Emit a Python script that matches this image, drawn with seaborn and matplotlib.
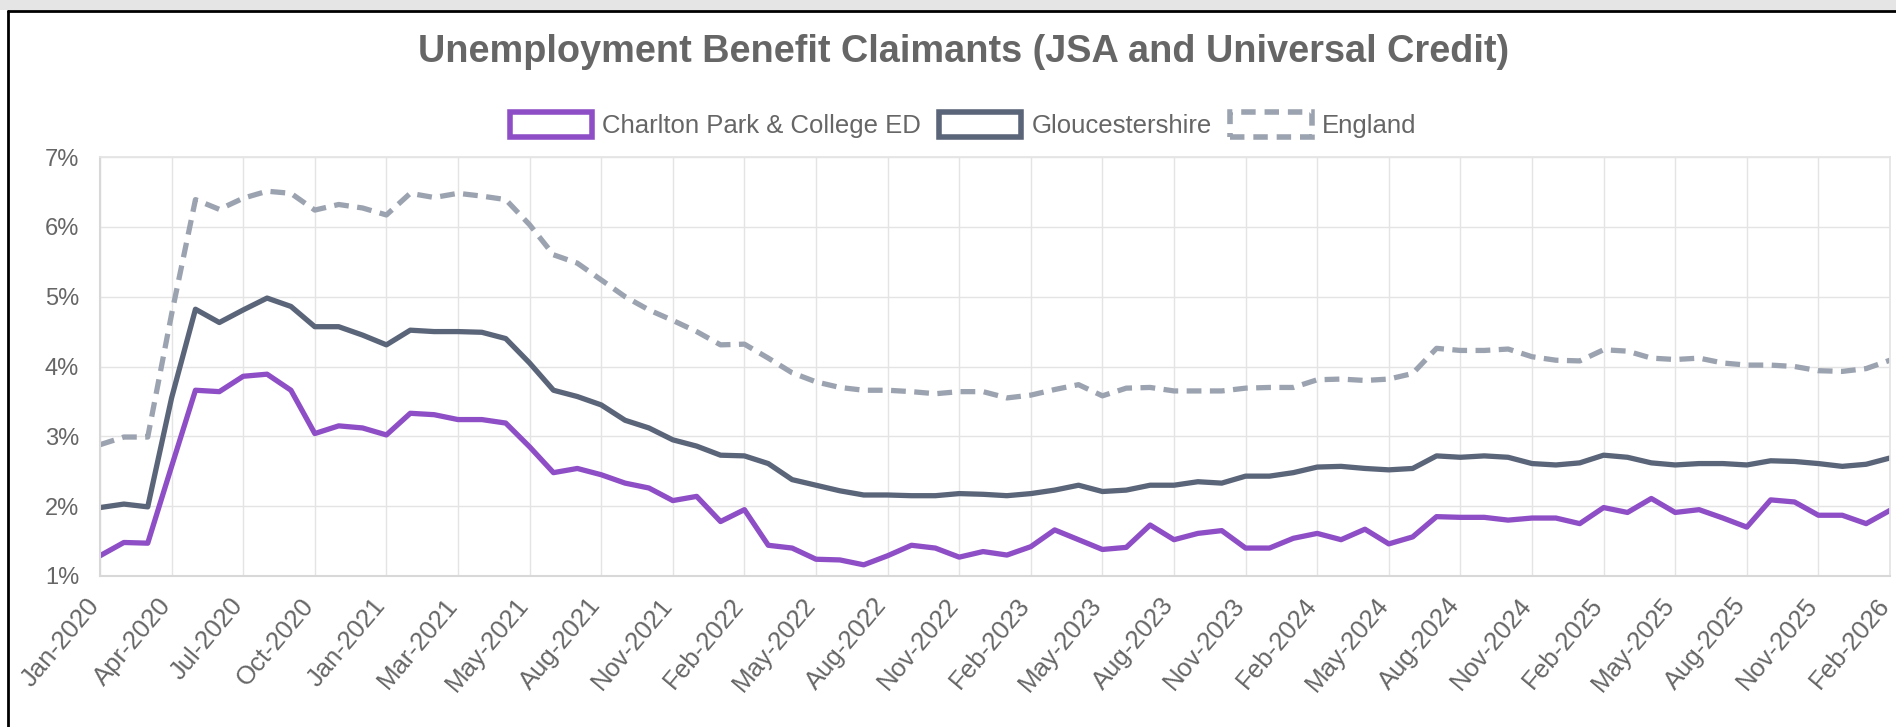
import seaborn as sns
import pandas as pd
import matplotlib.pyplot as plt
import matplotlib.transforms as mtransforms
from matplotlib.patches import Patch, Rectangle
from matplotlib.lines import Line2D
from matplotlib.ticker import FuncFormatter

# monthly claimant rates (%), 76 points, labels shown on every 3rd point
charlton = [
    1.29, 1.48, 1.47, 2.57, 3.66, 3.64, 3.86, 3.89, 3.66, 3.04, 3.15, 3.12,
    3.02, 3.33, 3.31, 3.24, 3.24, 3.19, 2.85, 2.48, 2.54, 2.45, 2.33, 2.26,
    2.08, 2.14, 1.78, 1.95, 1.44, 1.40, 1.24, 1.23, 1.16, 1.29, 1.44, 1.40,
    1.27, 1.35, 1.30, 1.42, 1.66, 1.52, 1.38, 1.41, 1.73, 1.52, 1.61, 1.65,
    1.40, 1.40, 1.54, 1.61, 1.52, 1.67, 1.46, 1.56, 1.85, 1.84, 1.84, 1.80,
    1.83, 1.83, 1.75, 1.98, 1.91, 2.11, 1.91, 1.95, 1.83, 1.70, 2.09, 2.06,
    1.87, 1.87, 1.75, 1.94,
]
gloucestershire = [
    1.98, 2.03, 1.99, 3.55, 4.82, 4.63, 4.81, 4.98, 4.86, 4.57, 4.57, 4.45,
    4.31, 4.52, 4.50, 4.50, 4.49, 4.40, 4.05, 3.66, 3.57, 3.45, 3.23, 3.12,
    2.95, 2.86, 2.73, 2.72, 2.61, 2.38, 2.30, 2.22, 2.16, 2.16, 2.15, 2.15,
    2.18, 2.17, 2.15, 2.18, 2.23, 2.30, 2.21, 2.23, 2.30, 2.30, 2.35, 2.33,
    2.43, 2.43, 2.48, 2.56, 2.57, 2.54, 2.52, 2.54, 2.72, 2.70, 2.72, 2.70,
    2.61, 2.59, 2.62, 2.73, 2.70, 2.62, 2.59, 2.61, 2.61, 2.59, 2.65, 2.64,
    2.61, 2.57, 2.60, 2.69,
]
england = [
    2.88, 2.99, 2.99, 4.75, 6.39, 6.25, 6.41, 6.51, 6.48, 6.24, 6.32, 6.27,
    6.17, 6.48, 6.42, 6.48, 6.44, 6.39, 6.03, 5.60, 5.48, 5.24, 5.00, 4.81,
    4.66, 4.50, 4.31, 4.32, 4.12, 3.91, 3.78, 3.70, 3.66, 3.66, 3.64, 3.61,
    3.64, 3.64, 3.55, 3.59, 3.67, 3.74, 3.58, 3.69, 3.70, 3.65, 3.65, 3.65,
    3.69, 3.70, 3.70, 3.81, 3.82, 3.80, 3.82, 3.90, 4.26, 4.23, 4.23, 4.25,
    4.14, 4.09, 4.08, 4.24, 4.22, 4.12, 4.10, 4.12, 4.05, 4.02, 4.02, 4.00,
    3.94, 3.93, 3.97, 4.09,
]
tick_labels = [
    "Jan-2020", "Apr-2020", "Jul-2020", "Oct-2020", "Jan-2021", "Mar-2021",
    "May-2021", "Aug-2021", "Nov-2021", "Feb-2022", "May-2022", "Aug-2022",
    "Nov-2022", "Feb-2023", "May-2023", "Aug-2023", "Nov-2023", "Feb-2024",
    "May-2024", "Aug-2024", "Nov-2024", "Feb-2025", "May-2025", "Aug-2025",
    "Nov-2025", "Feb-2026",
]
series_names = ["Charlton Park & College ED", "Gloucestershire", "England"]
colors = {"Charlton Park & College ED": "#8e4ec6",
          "Gloucestershire": "#5b6579",
          "England": "#9ca3b0"}

df = pd.DataFrame({
    "idx": list(range(len(charlton))) * 3,
    "rate": charlton + gloucestershire + england,
    "area": [n for n, s in zip(series_names, [charlton, gloucestershire, england]) for _ in s],
})

sns.set_theme(style="white")
plt.rcParams["font.family"] = ["Liberation Sans", "DejaVu Sans"]
plt.rcParams["lines.solid_joinstyle"] = "round"
plt.rcParams["lines.solid_capstyle"] = "round"
text_grey = "#666666"
grid_grey = "#e4e4e4"

fig = plt.figure(figsize=(18.96, 7.27), dpi=100)
ax = fig.add_axes([100 / 1896, 1 - 576 / 727, 1790 / 1896, 419 / 727])

sns.lineplot(data=df, x="idx", y="rate", hue="area", style="area",
             palette=colors, hue_order=series_names, style_order=series_names,
             dashes={"Charlton Park & College ED": "",
                     "Gloucestershire": "",
                     "England": (2.8, 1.6)},
             linewidth=3.8, legend=False, ax=ax)

ax.set_xlim(0, len(charlton) - 1)
ax.set_ylim(1, 7)
ax.set_xticks(range(0, len(charlton), 3))
ax.set_xticklabels(tick_labels, rotation=50, ha="right", va="center",
                   rotation_mode="anchor")
ax.set_yticks(range(1, 8))
ax.yaxis.set_major_formatter(FuncFormatter(lambda v, p: f"{int(v)}%"))
ax.tick_params(axis="both", length=11, width=1, color=grid_grey,
               labelcolor=text_grey, labelsize=17, pad=4)
ax.tick_params(axis="x", labelsize=18.5, pad=7)
shift = mtransforms.ScaledTranslation(-5 / 100, 0, fig.dpi_scale_trans)
for lbl in ax.get_xticklabels():
    lbl.set_transform(lbl.get_transform() + shift)
ax.grid(True, color=grid_grey, linewidth=1)
ax.set_xlabel("")
ax.set_ylabel("")
for side in ["top", "right"]:
    ax.spines[side].set_color(grid_grey)
for side in ["left", "bottom"]:
    ax.spines[side].set_color("#d8d8d8")
    ax.spines[side].set_linewidth(1.5)

fig.text(0.508, 0.929, "Unemployment Benefit Claimants (JSA and Universal Credit)",
         ha="center", va="center", fontsize=27.3, fontweight="bold", color=text_grey)

handles = [
    Patch(facecolor="white", edgecolor=colors["Charlton Park & College ED"], linewidth=4),
    Patch(facecolor="white", edgecolor=colors["Gloucestershire"], linewidth=4),
    Patch(facecolor="white", edgecolor=colors["England"], linewidth=4, linestyle=(0, (2.6, 1.6))),
]
fig.legend(handles, series_names, loc="center", bbox_to_anchor=(0.508, 0.828),
           ncol=3, frameon=False, fontsize=18.5, labelcolor=text_grey,
           handlelength=3.2, handleheight=1.1, handletextpad=0.4, columnspacing=0.7)

# page chrome around the chart
fig.patches.append(Rectangle((0, 1 - 10 / 727), 1, 10 / 727, transform=fig.transFigure,
                             facecolor="#e5e5e5", edgecolor="none", zorder=-1))
fig.lines.append(Line2D([8 / 1896, 1], [1 - 10.5 / 727] * 2, transform=fig.transFigure,
                        color="black", linewidth=2))
fig.lines.append(Line2D([8 / 1896] * 2, [0, 1 - 10.5 / 727], transform=fig.transFigure,
                        color="black", linewidth=2))

fig.savefig("out.png", dpi=100)
